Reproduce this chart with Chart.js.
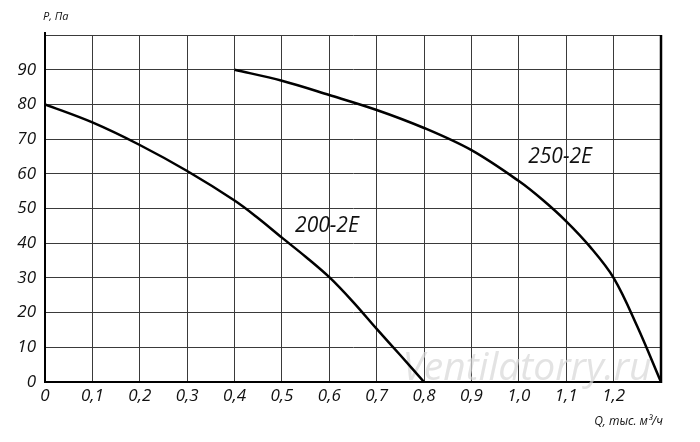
<!DOCTYPE html>
<html lang="ru">
<head>
    <meta charset="UTF-8">
    <title>P-Q</title>
    <script src="https://cdn.jsdelivr.net/npm/chart.js@4.4.0/dist/chart.umd.min.js"></script>
    <style>
        html, body { margin: 0; padding: 0; background: #fff; }
        #wrap { width: 700px; height: 442px; position: relative; }
    </style>
</head>
<body>
<div id="wrap"><canvas id="chart"></canvas></div>
<script>
    // данные кривых (Q, тыс. м3/ч ; P, Па)
    const q200 = [0, 0.1, 0.2, 0.3, 0.4, 0.45, 0.5, 0.55, 0.6, 0.65, 0.7, 0.75, 0.8];
    const p200 = [80, 74.8, 68.3, 60.8, 52.3, 47.2, 41.6, 36.1, 30.2, 23.1, 15.3, 7.7, 0];
    const q250 = [0.4, 0.5, 0.6, 0.7, 0.8, 0.9, 1.0, 1.05, 1.1, 1.15, 1.2, 1.25, 1.3];
    const p250 = [90, 86.8, 82.7, 78.4, 73.2, 66.8, 57.9, 52.5, 46.3, 39, 30, 16, 0];
    const xTicks = [0, 0.1, 0.2, 0.3, 0.4, 0.5, 0.6, 0.7, 0.8, 0.9, 1.0, 1.1, 1.2];
    const yTicks = [0, 10, 20, 30, 40, 50, 60, 70, 80, 90];
    const curveNames = ['200-2E', '250-2E'];
    const labelPos = [[0.595, 45], [1.087, 64.8]];

    const pts = (xs, ys) => xs.map((x, i) => ({ x: x, y: ys[i] }));
    const fmt = v => v.toFixed(v === 0 ? 0 : 1).replace('.', ',');

    const extras = {
        id: 'extras',
        beforeDatasetsDraw(chart) {
            const ctx = chart.ctx;
            ctx.save();
            // водяной знак
            ctx.font = 'italic 39px "Open Sans"';
            ctx.fillStyle = 'rgba(215,215,215,0.7)';
            ctx.textAlign = 'center';
            ctx.textBaseline = 'middle';
            ctx.fillText('Ventilatorry.ru', 527, 369);
            ctx.restore();
        },
        afterDraw(chart) {
            const { ctx, chartArea: a, scales } = chart;
            ctx.save();
            // правая рамка
            ctx.strokeStyle = '#000';
            ctx.lineWidth = 2.5;
            ctx.beginPath();
            ctx.moveTo(a.right, a.top);
            ctx.lineTo(a.right, a.bottom + 1);
            ctx.stroke();
            // левая ось чуть выше
            ctx.lineWidth = 2;
            ctx.beginPath();
            ctx.moveTo(a.left, a.top - 3);
            ctx.lineTo(a.left, a.top);
            ctx.stroke();
            // подписи кривых
            ctx.fillStyle = '#111';
            ctx.font = 'italic 21px "Open Sans"';
            ctx.textAlign = 'center';
            ctx.textBaseline = 'middle';
            curveNames.forEach((n, i) => {
                ctx.fillText(n, scales.x.getPixelForValue(labelPos[i][0]), scales.y.getPixelForValue(labelPos[i][1]));
            });
            // названия осей
            ctx.font = 'italic 11px "Open Sans"';
            ctx.textAlign = 'left';
            ctx.fillText('P, Па', 43, 17);
            ctx.font = 'italic 12px "Open Sans"';
            ctx.textAlign = 'right';
            ctx.fillText('Q, тыс. м³/ч', 663, 422);
            ctx.restore();
        }
    };

    new Chart(document.getElementById('chart'), {
        type: 'line',
        data: {
            datasets: [
                { label: curveNames[0], data: pts(q200, p200) },
                { label: curveNames[1], data: pts(q250, p250) }
            ]
        },
        options: {
            responsive: true,
            maintainAspectRatio: false,
            animation: false,
            layout: { padding: { left: 0, top: 35, right: 39, bottom: 0 } },
            elements: {
                point: { radius: 0 },
                line: { borderColor: '#000', borderWidth: 2.5, tension: 0.35, fill: false }
            },
            plugins: { legend: { display: false }, tooltip: { enabled: false } },
            scales: {
                x: {
                    type: 'linear', min: 0, max: 1.3,
                    afterFit: s => { s.height = 60; },
                    afterBuildTicks: s => { s.ticks = xTicks.concat([1.3]).map(v => ({ value: v })); },
                    grid: { color: '#3a3a3a', lineWidth: 1, drawTicks: false },
                    border: { color: '#000', width: 2 },
                    ticks: {
                        padding: 4,
                        maxRotation: 0,
                        autoSkip: false,
                        color: '#111',
                        font: { family: 'Open Sans', style: 'italic', size: 17 },
                        callback: v => (xTicks.some(t => Math.abs(t - v) < 1e-9) ? fmt(v) : '')
                    }
                },
                y: {
                    min: 0, max: 100,
                    afterFit: s => { s.width = 45; },
                    afterBuildTicks: s => { s.ticks = yTicks.concat([100]).map(v => ({ value: v })); },
                    grid: { color: '#3a3a3a', lineWidth: 1, drawTicks: false },
                    border: { color: '#000', width: 2 },
                    ticks: {
                        padding: 9,
                        color: '#111',
                        font: { family: 'Open Sans', style: 'italic', size: 17 },
                        callback: v => (yTicks.includes(v) ? String(v) : '')
                    }
                }
            }
        },
        plugins: [extras]
    });
</script>
</body>
</html>
